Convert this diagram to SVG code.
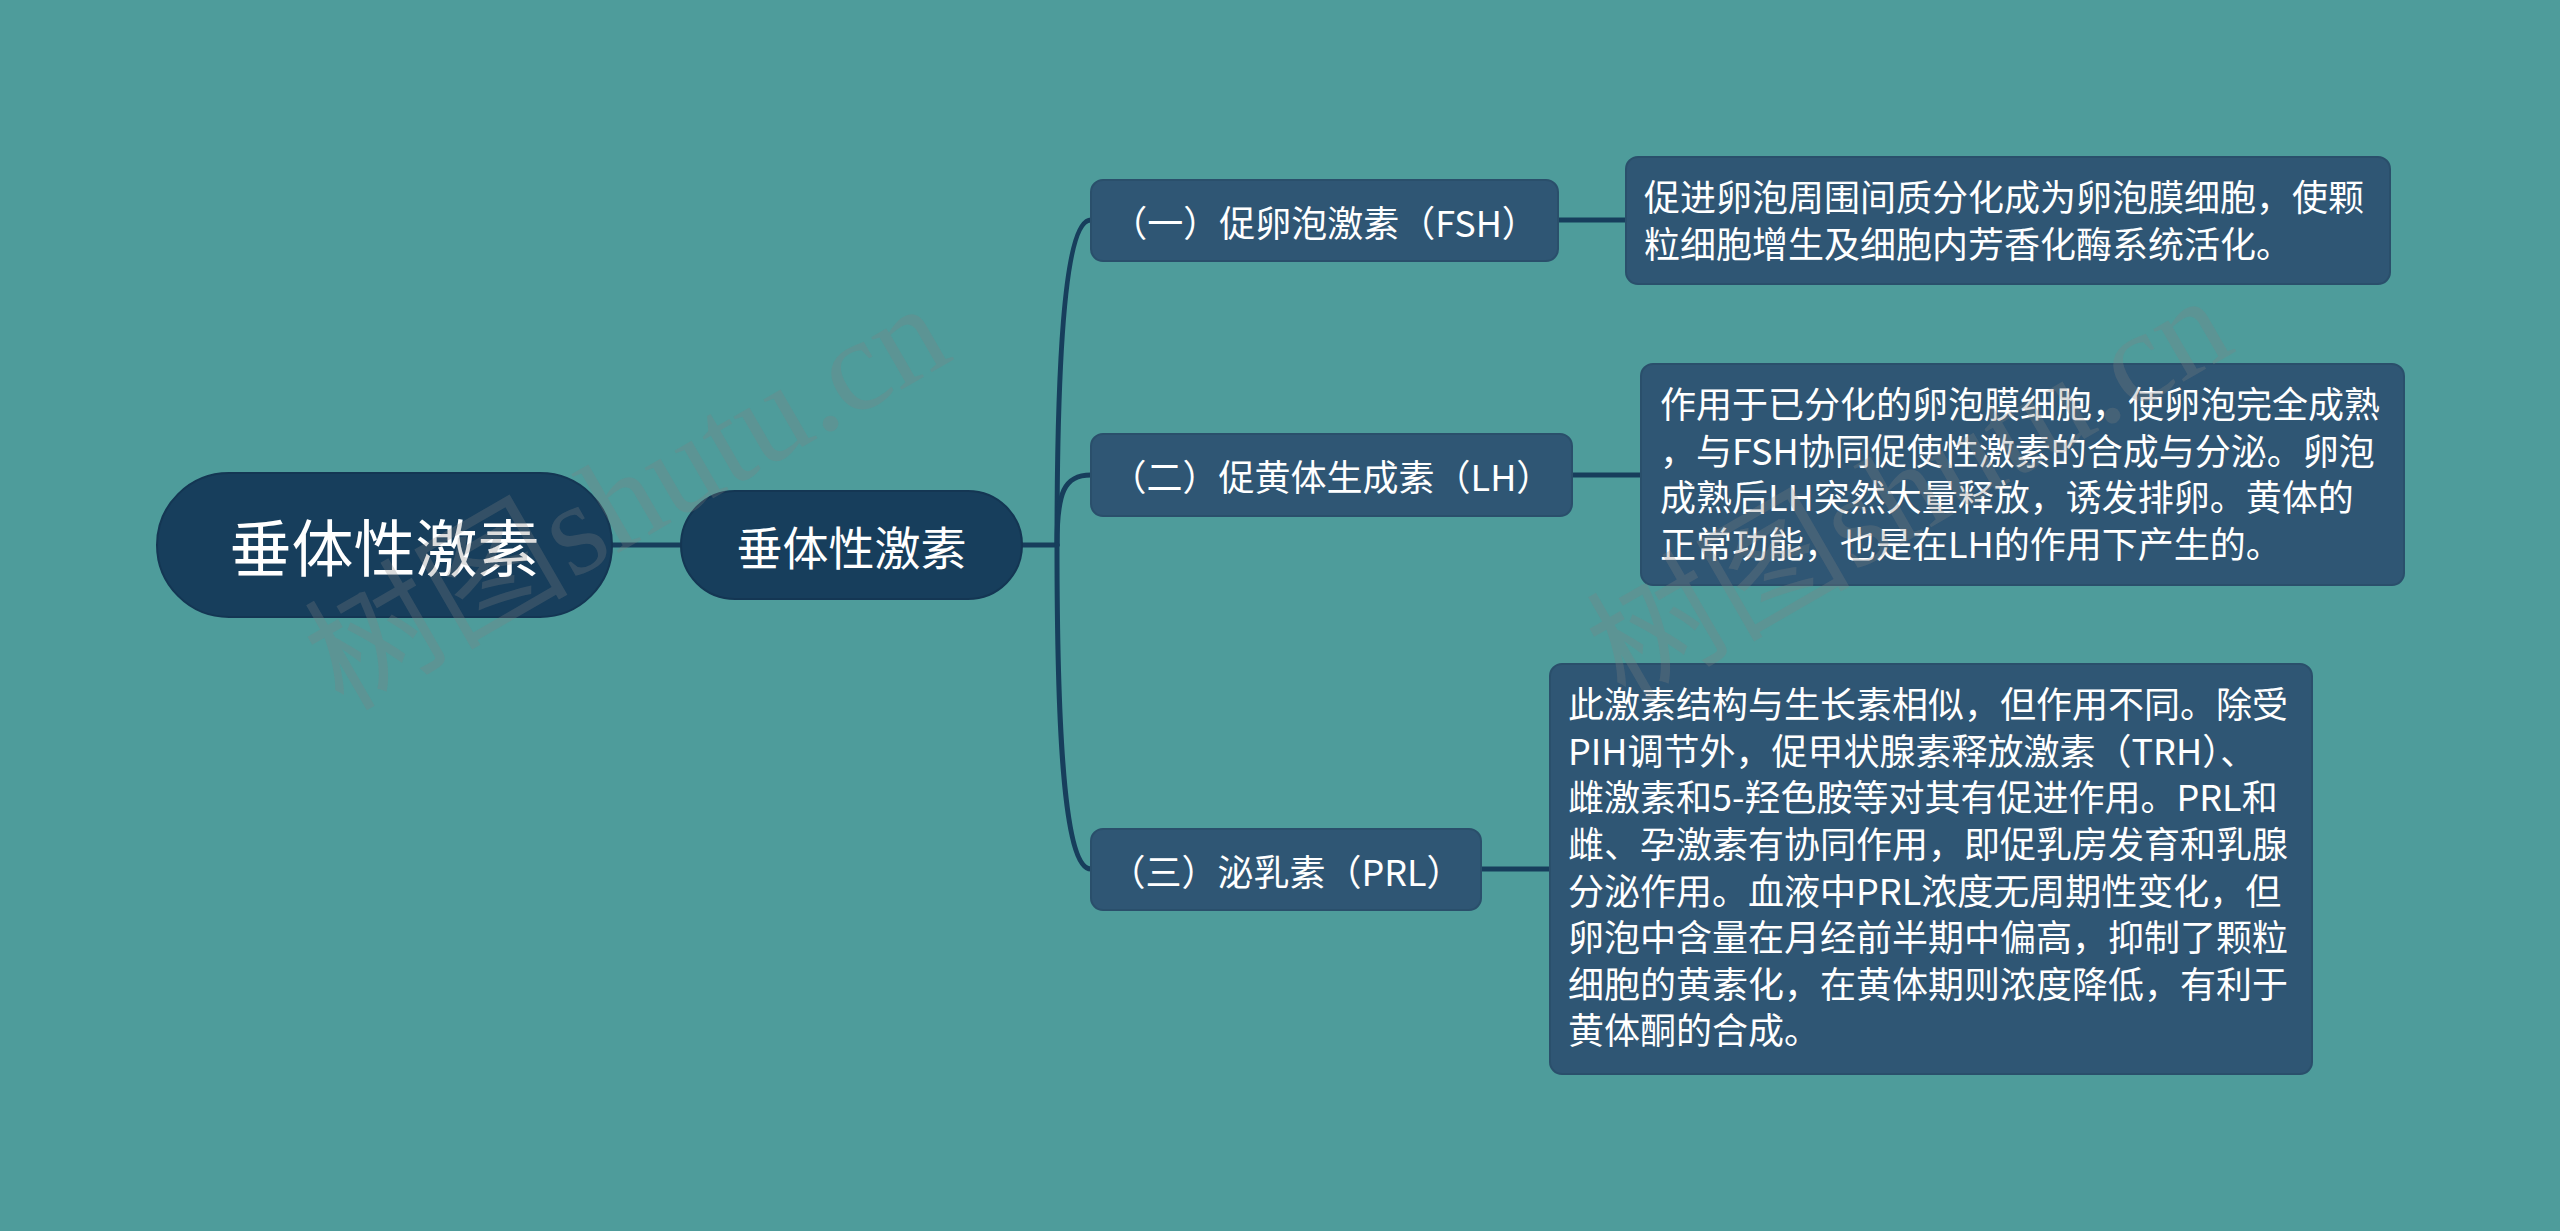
<svg xmlns="http://www.w3.org/2000/svg" width="2560" height="1231" viewBox="0 0 2560 1231">
<style>
.t{font-family:"Noto Sans CJK SC","Noto Sans",sans-serif;fill:#ffffff}
.c{text-anchor:middle;dominant-baseline:central}
.main{fill:#173e5c;stroke:#143653;stroke-width:2}
.sub{fill:#2f5674;stroke:#2a4f6b;stroke-width:2}
.ln{fill:none;stroke:#173e5c;stroke-width:5;stroke-linecap:round}
.wm{font-family:"Liberation Serif","Noto Sans CJK SC",serif;font-size:132px;fill:#808080;fill-opacity:0.28}
</style>
<rect width="2560" height="1231" fill="#4e9c9b"/>
<g id="connectors">
<path class="ln" d="M612 545 H681"/>
<path class="ln" d="M1022 545 H1057"/>
<path class="ln" d="M1057 545 C1057 380 1063 220 1091 220"/>
<path class="ln" d="M1057 545 C1057 492 1064 475 1091 475"/>
<path class="ln" d="M1057 545 C1057 720 1063 869 1091 869"/>
<path class="ln" d="M1558 220 H1626"/>
<path class="ln" d="M1572 475 H1641"/>
<path class="ln" d="M1481 869 H1550"/>
</g>
<g id="root">
<rect class="main" x="157" y="473" width="455" height="144" rx="72"/>
<text class="t c" x="384.5" y="545" font-size="62">垂体性激素</text>
</g>
<g id="n1">
<rect class="main" x="681" y="491" width="341" height="108" rx="54"/>
<text class="t c" x="851.5" y="545" font-size="46">垂体性激素</text>
</g>
<g id="fsh">
<rect class="sub" x="1091" y="180" width="467" height="81" rx="12"/>
<text class="t c" x="1324.5" y="220.5" font-size="36">（一）促卵泡激素（FSH）</text>
</g>
<g id="lh">
<rect class="sub" x="1091" y="434" width="481" height="82" rx="12"/>
<text class="t c" x="1331.5" y="475" font-size="36">（二）促黄体生成素（LH）</text>
</g>
<g id="prl">
<rect class="sub" x="1091" y="829" width="390" height="81" rx="12"/>
<text class="t c" x="1286" y="869.5" font-size="36">（三）泌乳素（PRL）</text>
</g>
<g id="fsh-desc">
<rect class="sub" x="1626" y="157" width="764" height="127" rx="12"/>
<text class="t" font-size="36" x="1644"><tspan x="1644" y="211">促进卵泡周围间质分化成为卵泡膜细胞，使颗</tspan><tspan x="1644" y="258">粒细胞增生及细胞内芳香化酶系统活化。</tspan></text>
</g>
<g id="lh-desc">
<rect class="sub" x="1641" y="364" width="763" height="221" rx="12"/>
<text class="t" font-size="36"><tspan x="1660" y="418">作用于已分化的卵泡膜细胞，使卵泡完全成熟</tspan><tspan x="1660" y="465">，与FSH协同促使性激素的合成与分泌。卵泡</tspan><tspan x="1660" y="511">成熟后LH突然大量释放，诱发排卵。黄体的</tspan><tspan x="1660" y="558">正常功能，也是在LH的作用下产生的。</tspan></text>
</g>
<g id="prl-desc">
<rect class="sub" x="1550" y="664" width="762" height="410" rx="12"/>
<text class="t" font-size="36"><tspan x="1568" y="718">此激素结构与生长素相似，但作用不同。除受</tspan><tspan x="1568" y="765">PIH调节外，促甲状腺素释放激素（TRH）、</tspan><tspan x="1568" y="811">雌激素和5-羟色胺等对其有促进作用。PRL和</tspan><tspan x="1568" y="858">雌、孕激素有协同作用，即促乳房发育和乳腺</tspan><tspan x="1568" y="905">分泌作用。血液中PRL浓度无周期性变化，但</tspan><tspan x="1568" y="951">卵泡中含量在月经前半期中偏高，抑制了颗粒</tspan><tspan x="1568" y="998">细胞的黄素化，在黄体期则浓度降低，有利于</tspan><tspan x="1568" y="1044">黄体酮的合成。</tspan></text>
</g>
<g id="watermark">
<text class="wm" transform="translate(343 712) rotate(-30)">树图shutu.cn</text>
<text class="wm" transform="translate(1625 704) rotate(-30)">树图shutu.cn</text>
</g>
</svg>
